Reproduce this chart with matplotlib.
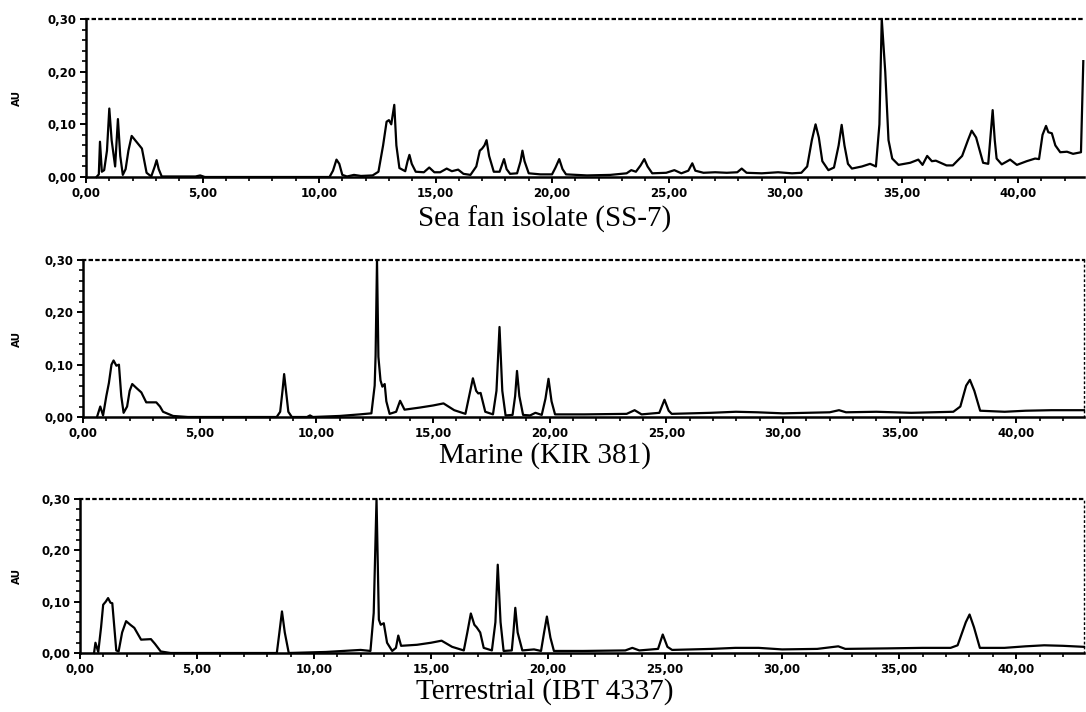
import matplotlib
matplotlib.use("Agg")
import matplotlib.pyplot as plt
from matplotlib.ticker import MultipleLocator, FuncFormatter

# Sea fan isolate (SS-7) - retention time (min) / absorbance (AU)
sea_t = [0.45, 0.55, 0.6, 0.68, 0.78, 0.9, 1.0, 1.1, 1.25, 1.37, 1.47, 1.58, 1.7, 1.82, 1.96, 2.2,
         2.4, 2.6, 2.8, 2.95, 3.03, 3.12, 3.25, 4.7, 4.9, 5.1, 10.45, 10.6, 10.75, 10.87, 11.0, 11.2,
         11.5, 11.8, 12.3, 12.55, 12.75, 12.9, 13.0, 13.1, 13.23, 13.32, 13.45, 13.7, 13.8, 13.88,
         13.98, 14.15, 14.5, 14.73, 14.95, 15.2, 15.48, 15.7, 15.97, 16.2, 16.5, 16.75, 16.9, 17.0,
         17.1, 17.19, 17.3, 17.5, 17.75, 17.94, 18.05, 18.2, 18.5, 18.65, 18.73, 18.82, 19.0, 19.5,
         20.0, 20.15, 20.31, 20.45, 20.6, 21.5, 22.5, 23.2, 23.4, 23.6, 23.8, 23.96, 24.1, 24.3,
         24.9, 25.25, 25.55, 25.85, 26.02, 26.15, 26.5, 27.0, 27.5, 27.95, 28.14, 28.35, 29.0, 29.7,
         30.3, 30.7, 30.95, 31.15, 31.31, 31.45, 31.6, 31.86, 32.1, 32.3, 32.43, 32.55, 32.7, 32.87,
         33.3, 33.65, 33.9, 34.05, 34.15, 34.3, 34.44, 34.6, 34.87, 35.37, 35.72, 35.9, 36.1, 36.3,
         36.47, 36.93, 37.2, 37.6, 37.85, 38.01, 38.2, 38.5, 38.72, 38.82, 38.91, 39.0, 39.08, 39.3,
         39.66, 39.95, 40.37, 40.73, 40.9, 41.05, 41.2, 41.3, 41.45, 41.6, 41.81, 42.1, 42.36, 42.7,
         42.8]
sea_au = [0.0, 0.005, 0.067, 0.01, 0.013, 0.05, 0.13, 0.07, 0.02, 0.11, 0.04, 0.004, 0.015, 0.05,
          0.078, 0.065, 0.054, 0.008, 0.001, 0.02, 0.032, 0.015, 0.001, 0.001, 0.003, 0.0, 0.0,
          0.012, 0.033, 0.025, 0.004, 0.001, 0.004, 0.002, 0.003, 0.01, 0.06, 0.105, 0.108, 0.1,
          0.137, 0.06, 0.017, 0.011, 0.03, 0.042, 0.025, 0.01, 0.009, 0.018, 0.009, 0.009, 0.016,
          0.011, 0.014, 0.006, 0.004, 0.02, 0.05, 0.054, 0.06, 0.07, 0.04, 0.01, 0.01, 0.034, 0.015,
          0.006, 0.007, 0.03, 0.05, 0.03, 0.007, 0.005, 0.005, 0.018, 0.034, 0.015, 0.005, 0.003,
          0.004, 0.007, 0.013, 0.01, 0.022, 0.034, 0.02, 0.007, 0.008, 0.013, 0.007, 0.012, 0.026,
          0.012, 0.008, 0.009, 0.008, 0.009, 0.016, 0.008, 0.007, 0.009, 0.007, 0.008, 0.02, 0.07,
          0.10, 0.075, 0.03, 0.013, 0.018, 0.06, 0.099, 0.06, 0.025, 0.016, 0.02, 0.025, 0.02, 0.1,
          0.30, 0.2, 0.07, 0.035, 0.023, 0.027, 0.033, 0.023, 0.04, 0.03, 0.031, 0.022, 0.022, 0.04,
          0.07, 0.088, 0.075, 0.027, 0.025, 0.08, 0.127, 0.07, 0.035, 0.024, 0.033, 0.023, 0.03,
          0.035, 0.034, 0.08, 0.097, 0.085, 0.083, 0.06, 0.047, 0.048, 0.044, 0.047, 0.22]

# Marine (KIR 381)
mar_t = [0.6, 0.74, 0.86, 1.0, 1.11, 1.22, 1.31, 1.43, 1.54, 1.64, 1.74, 1.89, 2.0, 2.11, 2.3, 2.5,
         2.71, 3.14, 3.3, 3.43, 3.86, 4.5, 8.3, 8.45, 8.55, 8.62, 8.7, 8.8, 8.95, 9.6, 9.73, 9.85,
         11.0, 11.86, 12.36, 12.5, 12.54, 12.6, 12.66, 12.75, 12.83, 12.93, 13.0, 13.14, 13.42,
         13.59, 13.78, 14.43, 15.0, 15.45, 15.91, 16.39, 16.55, 16.71, 16.85, 16.94, 17.04, 17.24,
         17.57, 17.72, 17.85, 17.97, 18.11, 18.41, 18.52, 18.6, 18.7, 18.86, 19.16, 19.39, 19.66,
         19.82, 19.95, 20.08, 20.23, 21.5, 23.3, 23.64, 23.94, 24.7, 24.92, 25.1, 25.23, 26.9, 27.98,
         28.9, 30.0, 31.0, 32.0, 32.4, 32.7, 34.0, 35.5, 37.3, 37.6, 37.85, 38.01, 38.2, 38.45, 39.5,
         40.4, 41.5, 42.9]
mar_au = [0.0, 0.02, 0.003, 0.04, 0.065, 0.1, 0.108, 0.098, 0.10, 0.04, 0.008, 0.02, 0.05, 0.063,
          0.055, 0.047, 0.028, 0.028, 0.02, 0.01, 0.002, 0.0, 0.0, 0.01, 0.05, 0.082, 0.05, 0.01,
          0.0, 0.0, 0.003, 0.0, 0.002, 0.005, 0.007, 0.06, 0.118, 0.30, 0.115, 0.07, 0.058, 0.063,
          0.03, 0.006, 0.01, 0.031, 0.014, 0.018, 0.022, 0.026, 0.013, 0.006, 0.04, 0.074, 0.05,
          0.045, 0.046, 0.01, 0.005, 0.05, 0.172, 0.05, 0.003, 0.004, 0.04, 0.088, 0.04, 0.004,
          0.003, 0.008, 0.004, 0.035, 0.073, 0.03, 0.005, 0.005, 0.006, 0.013, 0.005, 0.008, 0.033,
          0.012, 0.006, 0.008, 0.01, 0.009, 0.007, 0.008, 0.009, 0.013, 0.009, 0.01, 0.008, 0.01,
          0.02, 0.06, 0.071, 0.05, 0.012, 0.01, 0.012, 0.013, 0.013]

# Terrestrial (IBT 4337)
ter_t = [0.6, 0.66, 0.78, 0.9, 0.99, 1.1, 1.2, 1.3, 1.38, 1.55, 1.65, 1.8, 1.97, 2.15, 2.32, 2.61,
         3.03, 3.2, 3.45, 3.87, 8.41, 8.52, 8.63, 8.75, 8.92, 10.5, 11.99, 12.41, 12.55, 12.67,
         12.77, 12.85, 12.98, 13.12, 13.34, 13.5, 13.6, 13.72, 14.4, 15.0, 15.45, 15.9, 16.4, 16.55,
         16.7, 16.85, 16.95, 17.1, 17.25, 17.6, 17.75, 17.85, 17.97, 18.1, 18.45, 18.52, 18.6, 18.7,
         18.9, 19.4, 19.7, 19.83, 19.95, 20.1, 20.25, 21.5, 23.3, 23.6, 23.9, 24.7, 24.9, 25.1, 25.3,
         27.0, 28.0, 29.0, 30.0, 31.5, 32.4, 32.7, 34.5, 36.0, 37.2, 37.5, 37.85, 38.01, 38.2, 38.45,
         39.5, 40.4, 41.2, 42.0, 42.9]
ter_au = [0.0, 0.02, 0.002, 0.05, 0.094, 0.1, 0.107, 0.098, 0.097, 0.005, 0.003, 0.04, 0.062,
          0.055, 0.049, 0.026, 0.027, 0.018, 0.003, 0.0, 0.0, 0.04, 0.081, 0.04, 0.0, 0.002, 0.006,
          0.004, 0.078, 0.30, 0.065, 0.055, 0.058, 0.02, 0.004, 0.01, 0.034, 0.014, 0.016, 0.02,
          0.024, 0.012, 0.005, 0.04, 0.077, 0.055, 0.05, 0.04, 0.01, 0.005, 0.06, 0.172, 0.06, 0.004,
          0.005, 0.04, 0.088, 0.04, 0.005, 0.007, 0.004, 0.04, 0.071, 0.03, 0.004, 0.004, 0.005,
          0.01, 0.005, 0.008, 0.036, 0.012, 0.006, 0.008, 0.01, 0.01, 0.007, 0.008, 0.013, 0.008,
          0.009, 0.01, 0.01, 0.015, 0.06, 0.075, 0.05, 0.01, 0.01, 0.013, 0.015, 0.014, 0.012]

titles = ["Sea fan isolate (SS-7)", "Marine (KIR 381)", "Terrestrial (IBT 4337)"]
traces = [(sea_t, sea_au), (mar_t, mar_au), (ter_t, ter_au)]

W, H = 1086, 712
fig = plt.figure(figsize=(W / 100, H / 100), dpi=100)

# panel boxes in pixels: left, top, right, bottom
boxes = [(86, 19, 1084, 177), (83, 260, 1084, 417), (80, 499, 1084, 653)]
xmax = [42.83, 42.9, 42.9]
title_y = [219, 456, 692]

comma = FuncFormatter(lambda v, p: ("%.2f" % v).replace(".", ","))

for i in range(3):
    l, t, r, b = boxes[i]
    ax = fig.add_axes([l / W, 1 - b / H, (r - l) / W, (b - t) / H])
    ax.plot(traces[i][0], traces[i][1], color="black", lw=1.6, clip_on=False)
    ax.set_xlim(0, xmax[i])
    ax.set_ylim(0, 0.30)

    ax.xaxis.set_major_locator(MultipleLocator(5))
    ax.xaxis.set_minor_locator(MultipleLocator(1))
    ax.yaxis.set_major_locator(MultipleLocator(0.10))
    ax.yaxis.set_minor_locator(MultipleLocator(0.02))
    ax.xaxis.set_major_formatter(comma)
    ax.yaxis.set_major_formatter(comma)
    ax.tick_params(which="major", length=4.5, width=1.4, direction="out", pad=2,
                   labelsize=8.5, color="black")
    ax.tick_params(axis="x", which="major", pad=3)
    ax.tick_params(which="minor", length=3, width=1.2, direction="out", color="black")
    for lab in ax.get_xticklabels() + ax.get_yticklabels():
        lab.set_fontweight("bold")

    # frame: solid left/bottom, dotted top, right only faint
    ax.spines["left"].set_linewidth(1.8)
    ax.spines["bottom"].set_linewidth(1.8)
    ax.spines["top"].set_linewidth(1.6)
    ax.spines["top"].set_linestyle((0, (1, 2)))
    if i == 0:
        ax.spines["right"].set_visible(False)
    else:
        ax.spines["right"].set_linewidth(1.0)
        ax.spines["right"].set_linestyle((0, (1, 2.5)))

    ax.set_ylabel("AU", fontsize=7.5, fontweight="bold")
    ax.yaxis.set_label_coords(-(l - 22) / (r - l), 0.5)

    fig.text(545 / W, 1 - title_y[i] / H, titles[i], ha="center", va="center",
             fontsize=21, family="Liberation Serif")

fig.savefig("out.png", dpi=100, facecolor="white")
